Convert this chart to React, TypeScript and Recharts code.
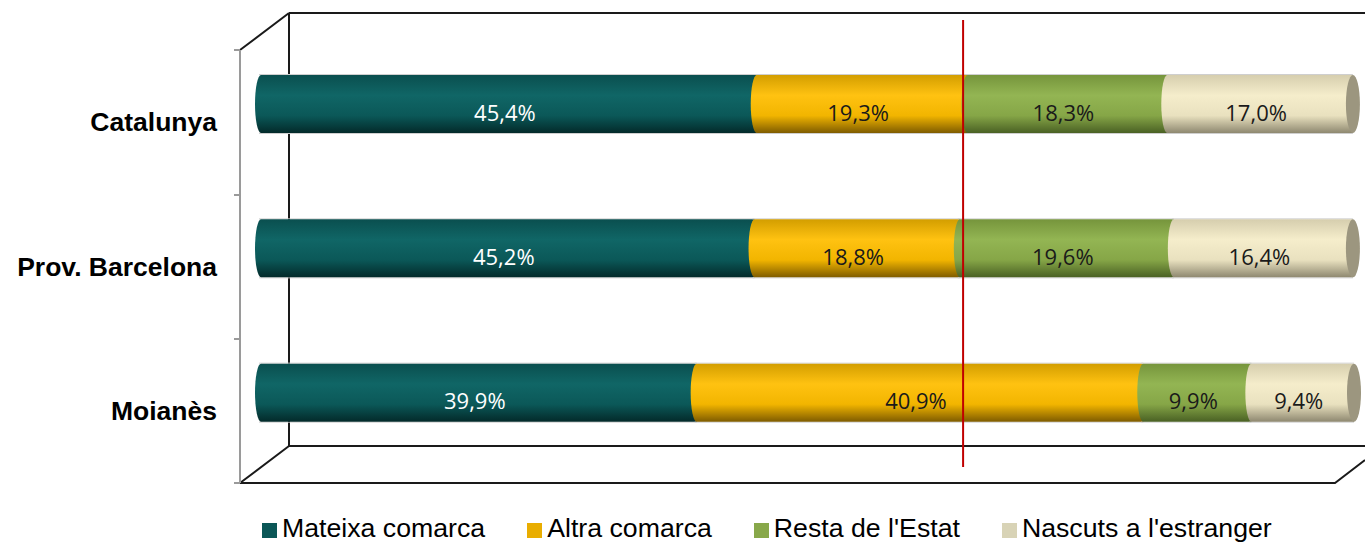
import { BarChart, Bar, XAxis, YAxis, ReferenceLine, LabelList } from 'recharts';

const categories = ['Catalunya', 'Prov. Barcelona', 'Moianès'];
const mateixaComarca = [45.4, 45.2, 39.9];
const altraComarca = [19.3, 18.8, 40.9];
const restaEstat = [18.3, 19.6, 9.9];
const estranger = [17.0, 16.4, 9.4];
const seriesNames = ['Mateixa comarca', 'Altra comarca', "Resta de l'Estat", "Nascuts a l'estranger"];
const refValue = 64.3;

const data = categories.map((name, i) => ({
  name,
  mateixa: mateixaComarca[i],
  altra: altraComarca[i],
  resta: restaEstat[i],
  estranger: estranger[i],
}));

const series = [
  { key: 'mateixa', gid: 'gTeal', swatch: '#0b5757', text: '#ffffff', stops: ['#0a4f4f', '#106666', '#0b5858', '#032a2a'] },
  { key: 'altra', gid: 'gYellow', swatch: '#e9ad00', text: '#1a1a1a', stops: ['#d39e00', '#ffc211', '#f2b500', '#7f5c00'] },
  { key: 'resta', gid: 'gGreen', swatch: '#88a84a', text: '#1a1a1a', stops: ['#76953c', '#93b553', '#86a647', '#4a6124'] },
  { key: 'estranger', gid: 'gBeige', swatch: '#d8d3b6', text: '#1a1a1a', stops: ['#d6ceae', '#f5edcb', '#e9e1bf', '#8e8870'] },
];

const fmt = (v: number) => v.toFixed(1).replace('.', ',') + '%';

const makeShape = (gid: string, cap?: string) => (props: any) => {
  const { x, y, width, height } = props;
  const rx = 6;
  const ry = height / 2;
  const d = `M${x + width},${y} L${x},${y} A${rx},${ry} 0 0 0 ${x},${y + height} L${x + width},${y + height} Z`;
  return (
    <g>
      <line x1={x - 2} x2={x + width} y1={y - 0.5} y2={y - 0.5} stroke="#cfcfcf" strokeWidth={1} />
      <line x1={x - 2} x2={x + width} y1={y + height + 0.5} y2={y + height + 0.5} stroke="#cfcfcf" strokeWidth={1} />
      <path d={d} fill={`url(#${gid})`} />
      {cap && <ellipse cx={x + width} cy={y + ry} rx={rx + 1} ry={ry} fill={cap} />}
    </g>
  );
};

const CategoryTick = (props: any) => {
  const { x, y, payload } = props;
  return (
    <text x={x} y={y + 18} dy="0.35em" textAnchor="end" fontFamily="'Liberation Sans', Arial, sans-serif" fontWeight="bold" fontSize={26.5} fill="#000">
      {payload.value}
    </text>
  );
};

const makeLabel = (color: string) => (props: any) => {
  const { x, y, width, height, value } = props;
  return (
    <text x={x + width / 2 - 4} y={y + height / 2 + 9} dy="0.35em" textAnchor="middle" fontFamily="'Open Sans', sans-serif" fontSize={22} fill={color}>
      {fmt(value)}
    </text>
  );
};

function Frame() {
  return (
    <svg width={1365} height={543} style={{ position: 'absolute', left: 0, top: 0 }}>
      <g fill="none">
        <path d="M289,13 L1365,13 M289,13 L289,446 L1365,446" stroke="#1a1a1a" strokeWidth={2} />
        <path d="M240,50 L289,13 M240,483 L289,446 M240,483 L1335,483 L1365,460" stroke="#1a1a1a" strokeWidth={2} />
        <path d="M240,50 L240,483" stroke="#9a9a9a" strokeWidth={2} />
        <path d="M234,50 L240,50 M234,195 L240,195 M234,339 L240,339 M234,483 L240,483" stroke="#9a9a9a" strokeWidth={2} />
      </g>
    </svg>
  );
}

export default function App() {
  return (
    <div style={{ position: 'absolute', left: 0, top: 0, width: 1365, height: 543, overflow: 'hidden', background: '#fff' }}>
      <Frame />
      <div style={{ position: 'absolute', left: 0, top: 0 }}>
        <BarChart width={1365} height={543} data={data} layout="vertical" margin={{ top: 32, right: 11, bottom: 78, left: 0 }}>
          <defs>
            {series.map((s) => (
              <linearGradient key={s.gid} id={s.gid} x1="0" y1="0" x2="0" y2="1">
                <stop offset="0%" stopColor={s.stops[0]} />
                <stop offset="35%" stopColor={s.stops[1]} />
                <stop offset="70%" stopColor={s.stops[2]} />
                <stop offset="100%" stopColor={s.stops[3]} />
              </linearGradient>
            ))}
          </defs>
          <XAxis type="number" domain={[0, 100]} hide />
          <YAxis type="category" dataKey="name" width={261} axisLine={false} tickLine={false} tickMargin={38} tick={<CategoryTick />} />
          {series.map((s, i) => (
            <Bar
              key={s.key}
              dataKey={s.key}
              name={seriesNames[i]}
              stackId="a"
              barSize={58}
              isAnimationActive={false}
              shape={makeShape(s.gid, i === series.length - 1 ? '#9c967f' : undefined)}
            >
              <LabelList dataKey={s.key} content={makeLabel(s.text)} />
            </Bar>
          ))}
          <ReferenceLine
            x={refValue}
            stroke="#c00000"
            strokeWidth={2}
            ifOverflow="visible"
            shape={(p: any) => (
              <line x1={p.x1} x2={p.x2} y1={Math.min(p.y1, p.y2) - 12} y2={Math.max(p.y1, p.y2) + 2} stroke="#c00000" strokeWidth={2} />
            )}
          />
        </BarChart>
      </div>
      <div style={{ position: 'absolute', left: 262, top: 513, display: 'flex', gap: 42, fontFamily: "'Liberation Sans', Arial, sans-serif", fontSize: 26.7, color: '#000', whiteSpace: 'nowrap' }}>
        {series.map((s, i) => (
          <div key={s.key} style={{ display: 'flex', alignItems: 'center' }}>
            <span style={{ display: 'inline-block', width: 15, height: 15, background: s.swatch, marginRight: 5, marginTop: 4 }} />
            <span>{seriesNames[i]}</span>
          </div>
        ))}
      </div>
    </div>
  );
}
